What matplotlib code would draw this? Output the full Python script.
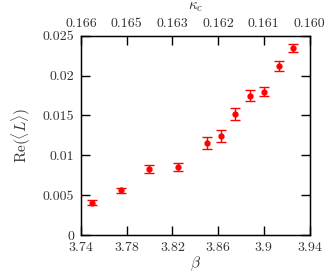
import matplotlib
matplotlib.use("Agg")
import matplotlib.pyplot as plt

plt.rcParams['font.family'] = 'serif'
plt.rcParams['font.serif'] = ['cmr10', 'DejaVu Serif']
plt.rcParams['mathtext.fontset'] = 'cm'
plt.rcParams['axes.unicode_minus'] = False

beta = [3.7496, 3.7747, 3.7998, 3.8252, 3.8500, 3.8628, 3.8748, 3.8879, 3.9002, 3.9133, 3.9256]
re_L = [0.00406, 0.00561, 0.00829, 0.00850, 0.01152, 0.01244, 0.01516, 0.01750, 0.01796, 0.02123, 0.02349]
err = [0.00030, 0.00035, 0.00053, 0.00048, 0.00073, 0.00075, 0.00073, 0.00065, 0.00057, 0.00059, 0.00050]

xticks = [3.74, 3.78, 3.82, 3.86, 3.9, 3.94]
xticklabels = ['3.74', '3.78', '3.82', '3.86', '3.9', '3.94']
yticks = [0, 0.005, 0.01, 0.015, 0.02, 0.025]
yticklabels = ['0', '0.005', '0.01', '0.015', '0.02', '0.025']
kappa_labels = ['0.166', '0.165', '0.163', '0.162', '0.161', '0.160']

fig = plt.figure(figsize=(3.27, 2.73), dpi=100)
ax = fig.add_axes([0.2477, 0.139, 0.6988, 0.730])

ax.errorbar(beta, re_L, yerr=err, fmt='o', color='#ff0000', ecolor='#ff0000',
            markersize=3.5, elinewidth=1.0, capsize=3.5, capthick=1.0)

ax.set_xlim(3.74, 3.94)
ax.set_ylim(0, 0.025)
ax.set_xticks(xticks)
ax.set_xticklabels(xticklabels)
ax.set_yticks(yticks)
ax.set_yticklabels(yticklabels)
ax.tick_params(direction='in', length=6.5, width=1.0, labelsize=10, right=True, pad=5,
               labelcolor='#333333')
for s in ax.spines.values():
    s.set_linewidth(1.0)

ax.set_xlabel(r'$\beta$', fontsize=11, labelpad=0, color='#333333')
ax.set_ylabel(r'$\mathrm{Re}(\langle L\rangle)$', fontsize=11, labelpad=7, color='#333333')

ax2 = ax.twiny()
ax2.set_xlim(3.74, 3.94)
ax2.set_xticks(xticks)
ax2.set_xticklabels(kappa_labels)
ax2.tick_params(direction='in', length=6.5, width=1.0, labelsize=10, pad=4, labelcolor='#333333')
ax2.set_xlabel(r'$\kappa_c$', fontsize=11, labelpad=6, color='#333333')

fig.savefig('out.png', dpi=100)
